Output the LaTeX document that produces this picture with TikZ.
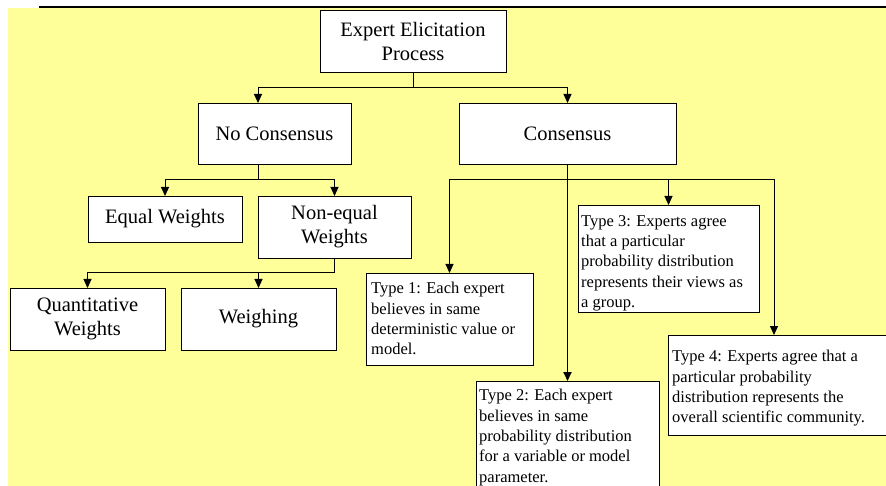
\documentclass[tikz,border=0pt]{standalone}
\usepackage{fontspec}
\setmainfont{Liberation Serif}
\usetikzlibrary{arrows.meta,calc}
\definecolor{bgyellow}{RGB}{255,255,153}
\begin{document}
\begin{tikzpicture}[x=1pt,y=-1pt,
  boxbase/.style={draw=black, fill=white, line width=0.9pt, inner sep=0pt, outer sep=0pt},
  bigtext/.style={font=\fontsize{20.5}{24}\selectfont, align=center},
  typebox/.style={boxbase, anchor=north west},
  typetext/.style={font=\fontsize{16.5}{20.4}\selectfont, align=left, anchor=north west, inner sep=0pt},
  conn/.style={draw=black, line width=1pt},
  arr/.style={conn, -{Triangle[width=8pt,length=9pt]}}
]
\useasboundingbox (0,0) rectangle (886,486);
\clip (0,0) rectangle (886,486);
\fill[bgyellow] (8,8) rectangle (886,486);
\draw[line width=1.2pt] (39,7) -- (886,7);

% top levels
\node[boxbase, bigtext, minimum width=186pt, minimum height=62pt] (root) at (413,41) {Expert Elicitation\\Process};
\node[boxbase, bigtext, minimum width=153pt, minimum height=61pt] (nocons) at (274.5,133.5) {No Consensus};
\node[boxbase, bigtext, minimum width=217pt, minimum height=61pt] (cons) at (567.5,133.5) {Consensus};
\node[boxbase, bigtext, minimum width=154pt, minimum height=46pt] (equal) at (165,219) {Equal Weights};
\node[boxbase, bigtext, minimum width=153pt, minimum height=62pt] (nonequal) at (334.5,227) {Non-equal\\Weights};
\node[boxbase, bigtext, minimum width=155pt, minimum height=62pt] (quant) at (87.5,319) {Quantitative\\Weights};
\node[boxbase, bigtext, minimum width=155pt, minimum height=62pt] (weigh) at (258.5,319) {Weighing};

% type boxes
\node[typebox, minimum width=167pt, minimum height=92pt] (t1) at (366,273) {};
\node[typebox, minimum width=183pt, minimum height=140pt] (t2) at (476,381) {};
\node[typebox, minimum width=181pt, minimum height=107pt] (t3) at (578,205) {};
\node[typebox, minimum width=240pt, minimum height=100pt] (t4) at (668,335) {};

\node[typetext] (t1txt) at ($(t1.north west)+(5,9)$) {Type 1: Each expert\\believes in same\\deterministic value or\\model.};
\node[typetext] (t2txt) at ($(t2.north west)+(3,8)$) {Type 2: Each expert\\believes in same\\probability distribution\\for a variable or model\\parameter.};
\node[typetext] (t3txt) at ($(t3.north west)+(3,10)$) {Type 3: Experts agree\\that a particular\\probability distribution\\represents their views as\\a group.};
\node[typetext] (t4txt) at ($(t4.north west)+(4,15)$) {Type 4: Experts agree that a\\particular probability\\distribution represents the\\overall scientific community.};

% connectors
\coordinate (j0) at (413,88);
\coordinate (ncin) at (258,103);
\draw[conn] (root.south) -- (j0);
\draw[arr] (j0) -| (ncin);
\draw[arr] (j0) -| (cons.north);

\coordinate (ncout) at (258,164);
\coordinate (j1) at (258,180);
\draw[conn] (ncout) -- (j1);
\draw[arr] (j1) -| (equal.north);
\draw[arr] (j1) -| (nonequal.north);

\draw[conn] (nonequal.south) -- ++(0,15) coordinate (j2);
\draw[arr] (j2) -| (quant.north);
\draw[arr] (j2) -| (weigh.north);

\draw[conn] (cons.south) -- ++(0,16) coordinate (j3);
\coordinate (t4in) at (774,335);
\draw[arr] (j3) -| (t1.north);
\draw[arr] (j3) -| (t3.north);
\draw[arr] (j3) -| (t4in);
\draw[conn, line width=1.8pt, -{Triangle[width=8pt,length=9pt]}] (j3) -- (t2.north);
\end{tikzpicture}
\end{document}
